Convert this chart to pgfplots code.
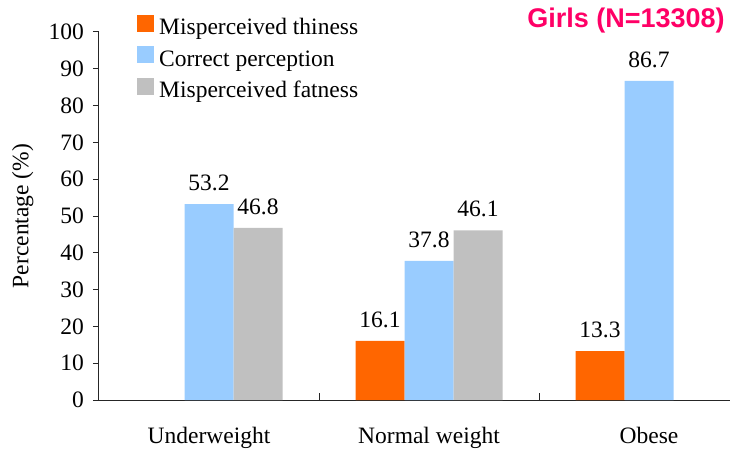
\documentclass[border=0pt]{standalone}
\usepackage{pgfplots}
\pgfplotsset{compat=1.18}
\usepackage{fontspec}
\setmainfont{Liberation Serif}
\newfontfamily\arial{Liberation Sans}
\definecolor{c1}{HTML}{FF6600}
\definecolor{c2}{HTML}{99CCFF}
\definecolor{c3}{HTML}{C0C0C0}
\definecolor{ttl}{HTML}{FF0066}
\newcommand\f{\fontsize{23.5pt}{28pt}\selectfont}
\begin{document}
\begin{tikzpicture}
\begin{axis}[
 at={(0,0)}, anchor=south west,
 scale only axis, width=631pt, height=368pt,
 xmin=-0.5, xmax=2.368, ymin=0, ymax=100,
 axis lines=left, axis line style={-, line width=1pt, black!85},
 /pgf/number format/assume math mode=true,
 ybar=0pt, bar width=49pt,
 xtick={0,1,2}, xticklabels={Underweight, Normal weight, Obese},
 x tick label style={font=\f, text height=16pt, text depth=5pt, inner sep=0pt, yshift=-21pt},
 major x tick style={draw=none},
 extra x ticks={0.5,1.5}, extra x tick labels={},
 extra x tick style={major x tick style={draw=black!85, line width=1pt}, tick align=inside, major tick length=7pt},
 ytick={0,10,...,100}, y tick label style={font=\f, inner sep=0pt, xshift=-9pt},
 tick align=outside, major tick length=6pt,
 y tick style={line width=1pt, black!85},
 ylabel={Percentage (\%)},
 ylabel style={font=\f, at={(axis description cs:-0.121,0.5)}, anchor=center},
 nodes near coords, nodes near coords style={font=\f, anchor=base, inner sep=0pt, yshift=13.5pt, text=black},
 legend style={at={(axis description cs:0.0602,1.047)}, anchor=north west, draw=none, fill=none, font=\f, row sep=5.4pt, inner sep=0pt, nodes={inner sep=1pt, text height=17pt, text depth=5pt}},
 legend cell align=left,
 legend image code/.code={\fill[#1] (0pt,-3pt) rectangle (17pt,14pt); \path (21pt,0pt);},
 clip=false,
]
\addplot[fill=c1, draw=none] coordinates {(1,16.1) (2,13.3)};
\addplot[fill=c2, draw=none] coordinates {(0,53.2) (1,37.8) (2,86.7)};
\addplot[fill=c3, draw=none] coordinates {(0,46.8) (1,46.1)};
\legend{Misperceived thiness, Correct perception, Misperceived fatness}
\node[font=\arial\bfseries\fontsize{27pt}{31pt}\selectfont, text=ttl, anchor=base east, inner sep=0pt] at (axis description cs:0.992,1.0109) {Girls (N=13308)};
\end{axis}
\pgfresetboundingbox
\path (-99pt,-50pt) rectangle (631pt,400pt);
\end{tikzpicture}
\end{document}
